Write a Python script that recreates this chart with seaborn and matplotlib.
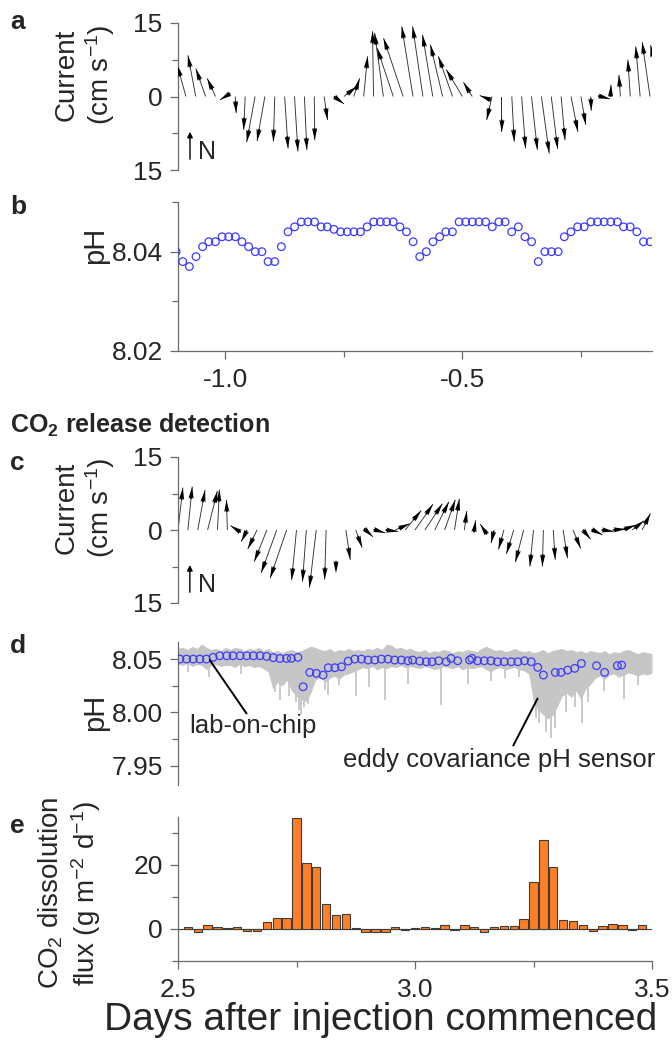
import numpy as np
import matplotlib
matplotlib.use("Agg")
import matplotlib.pyplot as plt
from matplotlib.ticker import FormatStrFormatter
import seaborn as sns

# ---------------- panel a: current sticks before injection (30 min) ----------
cur_a_t = [-1.0833, -1.0625, -1.0417, -1.0208, -1.0000, -0.9792, -0.9583, -0.9375,
           -0.9167, -0.8958, -0.8750, -0.8542, -0.8333, -0.8125, -0.7917, -0.7708,
           -0.7500, -0.7292, -0.7083, -0.6875, -0.6667, -0.6458, -0.6250, -0.6042,
           -0.5833, -0.5625, -0.5417, -0.5208, -0.5000, -0.4792, -0.4583, -0.4375,
           -0.4167, -0.3958, -0.3750, -0.3542, -0.3333, -0.3125, -0.2917, -0.2708,
           -0.2500, -0.2292, -0.2083, -0.1875, -0.1667, -0.1458, -0.1250, -0.1042,
           -0.0833]
cur_a_u = [-1.8, -1.6, -2.0, -1.7, -1.1, 0.2, -0.3, -1.7, -1.6, -0.3, 0.7, 0.7,
           0.5, 0.1, 0.7, 2.0, 2.6, 1.2, 0.8, -0.2, -1.8, -3.3, -4.0, -2.3,
           -2.1, -2.1, -2.5, -2.9, -3.3, -1.8, -0.5, -1.1, 0.0, 0.5, 0.8, 1.2,
           1.6, 1.3, 0.8, 1.4, 1.0, 0.1, 1.9, 0.1, -0.3, -0.5, -0.9, -1.6, -1.9]
cur_a_v = [6.5, 8.4, 5.7, 3.7, -0.7, -3.4, -6.8, -9.3, -9.1, -9.2, -10.6, -11.2,
           -10.9, -8.9, -4.8, -1.5, 2.0, 3.7, 8.2, 13.3, 13.0, 9.9, 11.9, 14.3,
           14.3, 12.6, 10.6, 8.2, 5.5, 2.9, 0.2, -4.8, -7.2, -9.2, -10.6, -10.9,
           -11.6, -10.7, -8.9, -7.2, -5.8, -2.9, -0.5, 2.4, 4.4, 7.5, 10.2, 11.1, 10.5]

# ---------------- panel b: lab-on-chip pH before injection -------------------
ph_b_t = [-1.104, -1.090, -1.076, -1.062, -1.048, -1.035, -1.021, -1.007, -0.993,
          -0.979, -0.965, -0.951, -0.937, -0.923, -0.910, -0.896, -0.882, -0.868,
          -0.854, -0.840, -0.826, -0.812, -0.798, -0.785, -0.771, -0.757, -0.743,
          -0.729, -0.715, -0.701, -0.687, -0.673, -0.660, -0.646, -0.632, -0.618,
          -0.604, -0.590, -0.576, -0.562, -0.548, -0.535, -0.521, -0.507, -0.493,
          -0.479, -0.465, -0.451, -0.437, -0.423, -0.410, -0.396, -0.382, -0.368,
          -0.354, -0.340, -0.326, -0.312, -0.298, -0.285, -0.271, -0.257, -0.243,
          -0.229, -0.215, -0.201, -0.187, -0.173, -0.160, -0.146, -0.132, -0.118,
          -0.104, -0.090]
ph_b = [8.040, 8.038, 8.037, 8.039, 8.041, 8.042, 8.042, 8.043, 8.043, 8.043,
        8.042, 8.041, 8.040, 8.040, 8.038, 8.038, 8.041, 8.044, 8.045, 8.046,
        8.046, 8.046, 8.045, 8.045, 8.0445, 8.044, 8.044, 8.044, 8.044, 8.045,
        8.046, 8.046, 8.046, 8.046, 8.045, 8.044, 8.042, 8.039, 8.040, 8.042,
        8.043, 8.044, 8.044, 8.046, 8.046, 8.046, 8.046, 8.046, 8.045, 8.046,
        8.046, 8.044, 8.045, 8.043, 8.042, 8.038, 8.040, 8.040, 8.040, 8.043,
        8.044, 8.045, 8.045, 8.046, 8.046, 8.046, 8.046, 8.046, 8.045, 8.045,
        8.044, 8.042, 8.042, 8.041]

# ---------------- panel c: current sticks during release --------------------
cur_c_t = [2.5000, 2.5208, 2.5417, 2.5625, 2.5833, 2.6042, 2.6250, 2.6458,
           2.6667, 2.6875, 2.7083, 2.7292, 2.7500, 2.7708, 2.7917, 2.8125,
           2.8333, 2.8542, 2.8750, 2.8958, 2.9167, 2.9375, 2.9583, 2.9792,
           3.0000, 3.0208, 3.0417, 3.0625, 3.0833, 3.1042, 3.1250, 3.1458,
           3.1667, 3.1875, 3.2083, 3.2292, 3.2500, 3.2708, 3.2917, 3.3125,
           3.3333, 3.3542, 3.3750, 3.3958, 3.4167, 3.4375, 3.4583, 3.4792]
cur_c_u = [1.0, 0.9, 1.5, 2.0, 0.4, -0.2, -1.4, -1.2, -1.9, -2.6, -3.2, -3.4,
           -1.0, -0.8, -1.4, -0.3, 0.0, 0.9, 1.3, 1.5, 2.0, 2.6, 3.0, 3.3,
           3.7, 3.6, 2.9, 2.2, 1.0, 0.5, 0.3, -0.8, -0.6, -1.1, -1.5, -1.7,
           -0.75, -0.2, 0.4, 0.9, 1.6, 1.6, 2.0, 2.3, 2.7, 2.7, 2.4, 1.7]
cur_c_v = [8.7, 8.9, 8.2, 8.0, 8.3, 6.2, 0.9, -2.4, -3.9, -6.5, -8.8, -9.9,
           -10.3, -10.6, -11.8, -10.2, -8.9, -6.1, -3.6, -1.4, -0.6, -0.3, 1.3, 4.0,
           5.3, 5.4, 5.8, 6.2, 6.4, 3.9, 2.0, 1.2, -2.7, -4.0, -4.9, -6.6,
           -7.5, -7.5, -6.1, -5.8, -3.8, -1.9, -1.0, -0.3, 0.2, 1.0, 1.9, 3.4]

# ---------------- panel d: lab-on-chip pH and eddy covariance pH -------------
loc_t = [2.504, 2.518, 2.532, 2.546, 2.560, 2.574, 2.588, 2.603, 2.616, 2.631,
         2.645, 2.659, 2.673, 2.687, 2.701, 2.715, 2.729, 2.739, 2.753, 2.764,
         2.778, 2.792, 2.806, 2.817, 2.831, 2.845, 2.859, 2.873, 2.887, 2.901,
         2.915, 2.929, 2.943, 2.957, 2.971, 2.985, 2.995, 3.010, 3.024, 3.036,
         3.050, 3.066, 3.076, 3.090, 3.115, 3.120, 3.132, 3.146, 3.160, 3.174,
         3.188, 3.203, 3.217, 3.231, 3.245, 3.259, 3.271, 3.296, 3.308, 3.322,
         3.337, 3.351, 3.383, 3.400, 3.427, 3.436]
loc_ph = [8.0500, 8.0500, 8.0500, 8.0500, 8.0500, 8.0516, 8.0531, 8.0531, 8.0531,
          8.0531, 8.0531, 8.0531, 8.0531, 8.0525, 8.0513, 8.0506, 8.0506, 8.0506,
          8.0516, 8.0241, 8.0375, 8.0366, 8.0350, 8.0419, 8.0419, 8.0428, 8.0481,
          8.0500, 8.0500, 8.0491, 8.0491, 8.0500, 8.0500, 8.0491, 8.0491, 8.0484,
          8.0491, 8.0481, 8.0475, 8.0475, 8.0484, 8.0475, 8.0506, 8.0484, 8.0491,
          8.0506, 8.0484, 8.0484, 8.0484, 8.0475, 8.0475, 8.0475, 8.0475, 8.0484,
          8.0475, 8.0422, 8.0350, 8.0375, 8.0375, 8.0397, 8.0413, 8.0459, 8.0438,
          8.0375, 8.0438, 8.0444]

ec_t = [2.50, 2.51, 2.52, 2.53, 2.54, 2.55, 2.56, 2.57, 2.58, 2.59, 2.60,
        2.61, 2.62, 2.63, 2.64, 2.65, 2.66, 2.67, 2.68, 2.69, 2.70,
        2.71, 2.72, 2.73, 2.74, 2.75, 2.76, 2.77, 2.78, 2.79, 2.80,
        2.81, 2.82, 2.83, 2.84, 2.85, 2.86, 2.87, 2.88, 2.89, 2.90,
        2.91, 2.92, 2.93, 2.94, 2.95, 2.96, 2.97, 2.98, 2.99, 3.00,
        3.01, 3.02, 3.03, 3.04, 3.05, 3.06, 3.07, 3.08, 3.09, 3.10,
        3.11, 3.12, 3.13, 3.14, 3.15, 3.16, 3.17, 3.18, 3.19, 3.20,
        3.21, 3.22, 3.23, 3.24, 3.25, 3.26, 3.27, 3.28, 3.29, 3.30,
        3.31, 3.32, 3.33, 3.34, 3.35, 3.36, 3.37, 3.38, 3.39, 3.40,
        3.41, 3.42, 3.43, 3.44, 3.45, 3.46, 3.47, 3.48, 3.49, 3.50]
ec_hi = [8.060, 8.061, 8.059, 8.062, 8.060, 8.064, 8.061, 8.059, 8.060, 8.058, 8.061,
         8.059, 8.061, 8.060, 8.058, 8.060, 8.059, 8.061, 8.058, 8.060,
         8.057, 8.058, 8.056, 8.058, 8.059, 8.057, 8.058, 8.060, 8.062,
         8.061, 8.059, 8.058, 8.060, 8.057, 8.059, 8.058, 8.060, 8.058,
         8.059, 8.058, 8.060, 8.059, 8.061, 8.059, 8.064, 8.063, 8.060, 8.061, 8.059, 8.060,
         8.058, 8.057, 8.059, 8.056, 8.058, 8.057, 8.059, 8.058, 8.056, 8.058, 8.057,
         8.059, 8.058, 8.057, 8.060, 8.062, 8.060, 8.058, 8.059, 8.057, 8.058, 8.060,
         8.058, 8.057, 8.058,
         8.056, 8.057, 8.059, 8.056, 8.058, 8.059,
         8.060, 8.058, 8.059, 8.057, 8.058, 8.056, 8.058,
         8.057, 8.056, 8.058, 8.055, 8.057, 8.056, 8.058, 8.059, 8.057, 8.055, 8.057,
         8.056, 8.055]
ec_lo = [8.045, 8.044, 8.046, 8.043, 8.045, 8.044, 8.040, 8.044, 8.045, 8.043, 8.044,
         8.044, 8.042, 8.045, 8.043, 8.044, 8.042, 8.043, 8.041, 8.038,
         8.022, 8.028, 8.025, 8.030, 8.020, 8.015, 8.012, 8.010, 8.018,
         8.030, 8.033, 8.028, 8.032, 8.034, 8.031, 8.035, 8.036, 8.038,
         8.040, 8.042, 8.041, 8.043, 8.040, 8.042, 8.041, 8.043, 8.042, 8.044, 8.042, 8.043,
         8.042, 8.041, 8.043, 8.042, 8.040, 8.041, 8.043, 8.042, 8.041, 8.043, 8.040,
         8.042, 8.041, 8.042, 8.043, 8.040, 8.038, 8.041, 8.042, 8.040, 8.041, 8.042,
         8.040, 8.039, 8.036,
         8.010, 8.002, 7.998, 7.994, 7.997, 8.005,
         8.015, 8.018, 8.014, 8.020, 8.012, 8.022, 8.026,
         8.032, 8.034, 8.031, 8.035, 8.036, 8.033, 8.035, 8.037, 8.036, 8.034, 8.036,
         8.035, 8.037]
spike_t = [2.522, 2.565, 2.633, 2.705, 2.716, 2.735, 2.748, 2.756, 2.760, 2.766,
           2.775, 2.810, 2.817, 2.840, 2.876, 2.904, 2.936, 2.985, 3.055, 3.111,
           3.160, 3.190, 3.220, 3.255, 3.262, 3.276, 3.286, 3.295, 3.318, 3.338,
           3.353, 3.365, 3.399, 3.440, 3.470]
spike_ph = [8.038, 8.033, 8.036, 8.019, 8.012, 8.015, 8.010, 8.002, 7.999, 8.005,
            8.008, 8.021, 8.016, 8.026, 8.015, 8.024, 8.012, 8.027, 8.007, 8.027,
            8.029, 8.032, 8.033, 7.995, 7.990, 7.982, 7.976, 7.985, 8.000, 8.005,
            7.990, 8.010, 8.020, 8.013, 8.026]

# ---------------- panel e: CO2 dissolution flux (half-hourly) ----------------
flux_t = [2.5208, 2.5417, 2.5625, 2.5833, 2.6042, 2.6250, 2.6458, 2.6667,
          2.6875, 2.7083, 2.7292, 2.7500, 2.7708, 2.7917, 2.8125, 2.8333,
          2.8542, 2.8750, 2.8958, 2.9167, 2.9375, 2.9583, 2.9792, 3.0000,
          3.0208, 3.0417, 3.0625, 3.0833, 3.1042, 3.1250, 3.1458, 3.1667,
          3.1875, 3.2083, 3.2292, 3.2500, 3.2708, 3.2917, 3.3125, 3.3333,
          3.3542, 3.3750, 3.3958, 3.4167, 3.4375, 3.4583, 3.4792]
flux = [0.5, -0.8, 1.1, 0.7, 0.2, 0.7, -0.7, -0.7, 2.1, 3.3, 3.3, 34.7,
        20.6, 19.3, 7.9, 4.3, 4.7, 0.4, -0.8, -0.8, -0.8, 0.5, -0.3, 0.4,
        0.5, 0.2, 1.1, -0.3, 1.1, 0.7, -1.0, 0.5, 0.9, 0.9, 3.2, 14.6,
        27.7, 19.5, 2.8, 2.5, 1.1, -0.7, 0.9, 1.5, 1.1, -0.4, 1.1]

# ---------------- style ----------------
sns.set_style("ticks")
plt.rcParams["font.family"] = ["Liberation Sans", "DejaVu Sans"]
plt.rcParams["mathtext.fontset"] = "custom"
plt.rcParams["mathtext.rm"] = "Liberation Sans"
plt.rcParams["mathtext.it"] = "Liberation Sans:italic"
plt.rcParams["mathtext.bf"] = "Liberation Sans:bold"
plt.rcParams["axes.unicode_minus"] = False

SPINE = "#6a6a6a"
BLUE = "#3c3cff"
GREY = "#c6c6c6"
TICK_FS = 19
LAB_FS = 20

fig = plt.figure(figsize=(6.72, 10.41), dpi=100)


def px_axes(top, bottom):
    return fig.add_axes([178 / 672, 1 - bottom / 1041, 474 / 672, (bottom - top) / 1041])


def style(ax, xaxis=False):
    sns.despine(ax=ax, bottom=not xaxis)
    for s in ax.spines.values():
        s.set_color(SPINE)
        s.set_linewidth(0.9)
    ax.tick_params(which="both", direction="out", color=SPINE, width=0.9,
                   labelsize=TICK_FS, pad=5)
    ax.tick_params(which="major", length=6)
    ax.tick_params(which="minor", length=4)
    if not xaxis:
        ax.tick_params(axis="x", which="both", bottom=False, labelbottom=False)
    ax.set_facecolor("none")


def sticks(ax, t, u, v):
    # east component scaled so each stick keeps its true compass angle on screen
    t, u, v = np.asarray(t), np.asarray(u), np.asarray(v)
    bb = ax.get_window_extent()
    x0, x1 = ax.get_xlim()
    y0, y1 = ax.get_ylim()
    k = (bb.height / (y1 - y0)) / (bb.width / (x1 - x0))
    ax.quiver(t, np.zeros_like(t), u * k, v, angles="xy", scale_units="xy", scale=1,
              units="dots", width=0.9, headwidth=1, headlength=0, headaxislength=0,
              color="#303030", zorder=2)
    ang = np.arctan2(v, u)
    ax.quiver(t + u * k, v, np.cos(ang) * 12.2, np.sin(ang) * 12.2, angles="uv",
              scale_units="dots", scale=1, units="dots", width=2.0, headwidth=2.6,
              headlength=6, headaxislength=5.4, pivot="tip", color="black", zorder=3)


def north_key(ax, x, xn):
    ax.annotate("", xy=(x, -7.2), xytext=(x, -12.8),
                arrowprops=dict(arrowstyle="-|>", color="black", lw=1.0,
                                mutation_scale=8, shrinkA=0, shrinkB=0))
    ax.text(xn, -12.7, "N", fontsize=18, ha="left", va="baseline")


# ---- a ----
ax_a = px_axes(23, 170)
ax_a.set_xlim(-1.1, -0.1)
ax_a.set_ylim(-15, 15)
style(ax_a)
ax_a.set_yticks([-15, 0, 15])
ax_a.set_yticklabels(["15", "0", "15"])
ax_a.set_yticks([-7.5, 7.5], minor=True)
sticks(ax_a, cur_a_t, cur_a_u, cur_a_v)
north_key(ax_a, -1.0747, -1.058)

# ---- b ----
ax_b = px_axes(202, 351)
sns.scatterplot(x=ph_b_t, y=ph_b, ax=ax_b, marker="o", s=30, facecolor="none",
                edgecolor=BLUE, linewidth=0.9, zorder=3)
ax_b.set_xlim(-1.1, -0.1)
ax_b.set_ylim(8.02, 8.05)
style(ax_b, xaxis=True)
ax_b.set_yticks([8.02, 8.04])
ax_b.set_yticks([8.03, 8.05], minor=True)
ax_b.yaxis.set_major_formatter(FormatStrFormatter("%.2f"))
ax_b.set_xticks([-1.0, -0.5])
ax_b.set_xticks([-0.75, -0.25], minor=True)
ax_b.xaxis.set_major_formatter(FormatStrFormatter("%.1f"))
ax_b.tick_params(axis="x", pad=6)

# ---- c ----
ax_c = px_axes(457, 603)
ax_c.set_xlim(2.5, 3.5)
ax_c.set_ylim(-15, 15)
style(ax_c)
ax_c.set_yticks([-15, 0, 15])
ax_c.set_yticklabels(["15", "0", "15"])
ax_c.set_yticks([-7.5, 7.5], minor=True)
sticks(ax_c, cur_c_t, cur_c_u, cur_c_v)
north_key(ax_c, 2.525, 2.542)

# ---- d ----
ax_d = px_axes(642, 785)
ax_d.fill_between(ec_t, ec_lo, ec_hi, color=GREY, lw=0, zorder=1)
ax_d.vlines(spike_t, spike_ph, 8.046, color=GREY, lw=1.3, zorder=1)
sns.scatterplot(x=loc_t, y=loc_ph, ax=ax_d, marker="o", s=30, facecolor="none",
                edgecolor=BLUE, linewidth=0.9, zorder=3)
ax_d.set_xlim(2.5, 3.5)
ax_d.set_ylim(7.932, 8.066)
style(ax_d)
ax_d.set_yticks([7.95, 8.00, 8.05])
ax_d.set_yticks([7.975, 8.025], minor=True)
ax_d.yaxis.set_major_formatter(FormatStrFormatter("%.2f"))
ax_d.annotate("", xy=(2.567, 8.049), xytext=(2.6446, 7.999),
              arrowprops=dict(arrowstyle="-", color="black", lw=1.4, shrinkA=0, shrinkB=0))
ax_d.text(2.658, 7.987, "lab-on-chip", fontsize=18.5, ha="center", va="center")
ax_d.annotate("", xy=(3.2585, 8.013), xytext=(3.2074, 7.969),
              arrowprops=dict(arrowstyle="-", color="black", lw=1.4, shrinkA=0, shrinkB=0))
ax_d.text(3.178, 7.9556, "eddy covariance pH sensor", fontsize=18.5, ha="center", va="center")

# ---- e ----
ax_e = px_axes(817, 961)
sns.barplot(x=flux_t, y=flux, ax=ax_e, native_scale=True, width=0.85, color="#ff7f27",
            saturation=1, edgecolor="#3c3c3c", linewidth=0.8, errorbar=None, zorder=2)
ax_e.axhline(0, color="#404040", lw=0.8, zorder=1)
ax_e.set_xlim(2.5, 3.5)
ax_e.set_ylim(-10, 35)
style(ax_e, xaxis=True)
ax_e.set_yticks([0, 20])
ax_e.set_yticks([-10, 10, 30], minor=True)
ax_e.set_xticks([2.5, 3.0, 3.5])
ax_e.set_xticks([2.75, 3.25], minor=True)
ax_e.xaxis.set_major_formatter(FormatStrFormatter("%.1f"))
ax_e.yaxis.set_major_formatter(FormatStrFormatter("%d"))
ax_e.tick_params(axis="x", pad=6)
ax_e.set_xlabel("")
ax_e.set_ylabel("")

# ---- labels and titles ----
fig.text(85 / 672, 1 - 75 / 1041, "Current\n(cm s$^{-1}$)", rotation=90, fontsize=LAB_FS,
         ha="center", va="center", multialignment="center", linespacing=1.15)
fig.text(95 / 672, 1 - 245 / 1041, "pH", rotation=90, fontsize=LAB_FS + 1, ha="center", va="center")
fig.text(85 / 672, 1 - 508 / 1041, "Current\n(cm s$^{-1}$)", rotation=90, fontsize=LAB_FS,
         ha="center", va="center", multialignment="center", linespacing=1.15)
fig.text(95 / 672, 1 - 712 / 1041, "pH", rotation=90, fontsize=LAB_FS + 1, ha="center", va="center")
fig.text(70 / 672, 1 - 893 / 1041, "CO$_2$ dissolution\nflux (g m$^{-2}$ d$^{-1}$)", rotation=90,
         fontsize=LAB_FS, ha="center", va="center", multialignment="center", linespacing=1.15)
fig.text(381 / 672, 1 - 1020 / 1041, "Days after injection commenced", fontsize=28,
         ha="center", va="center")
fig.text(10 / 672, 1 - 425 / 1041, r"CO$_\mathbf{2}$ release detection", fontsize=18,
         fontweight="bold", ha="left", va="center")
for letter, y in zip("abcde", [22, 207, 463, 646, 826]):
    fig.text(10 / 672, 1 - y / 1041, letter, fontsize=19, fontweight="bold",
             ha="left", va="center")

fig.savefig("out.png", dpi=100)
